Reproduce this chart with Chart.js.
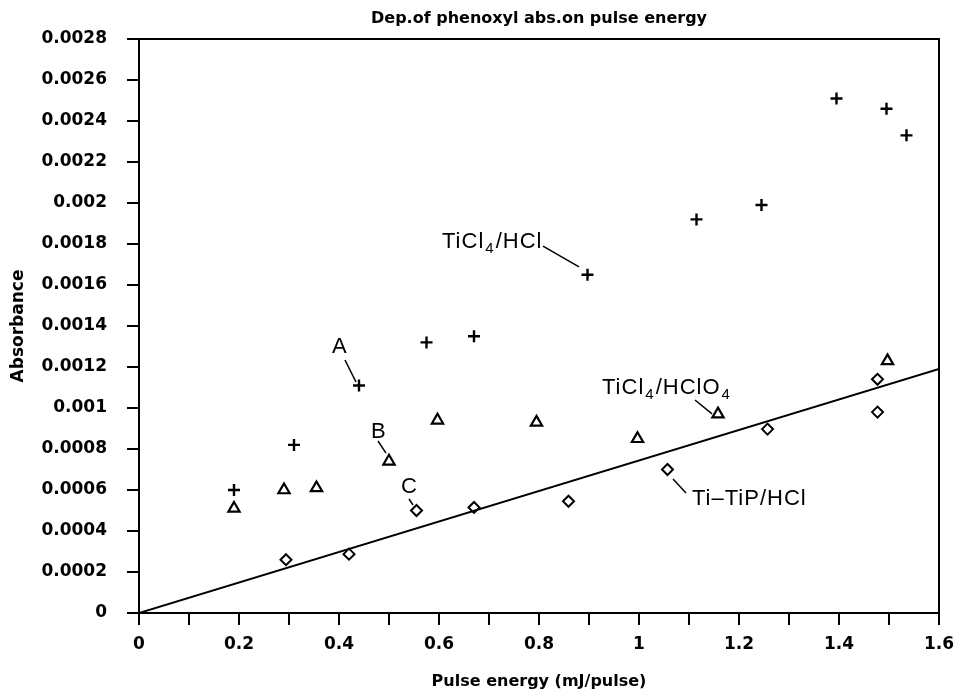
<!DOCTYPE html>
<html>
<head>
<meta charset="utf-8">
<script src="https://cdn.jsdelivr.net/npm/chart.js@4.4.1/dist/chart.umd.min.js"></script>
<style>
  body { margin: 0; background: #fff; }
  #chart { display: block; }
</style>
</head>
<body>
<canvas id="chart" width="956" height="692"></canvas>
<script>
//Data
const hclX = [0.19, 0.31, 0.44, 0.575, 0.67, 0.897, 1.115, 1.245, 1.395, 1.495, 1.535];
const hclY = [0.0006, 0.00082, 0.00111, 0.00132, 0.00135, 0.00165, 0.00192, 0.00199, 0.00251, 0.00246, 0.00233];

const hclo4X = [0.19, 0.29, 0.355, 0.5, 0.597, 0.795, 0.997, 1.158, 1.497];
const hclo4Y = [0.00051, 0.0006, 0.00061, 0.00074, 0.00094, 0.00093, 0.00085, 0.00097, 0.00123];

const tipX = [0.294, 0.42, 0.555, 0.67, 0.859, 1.057, 1.257, 1.477, 1.477];
const tipY = [0.00026, 0.000287, 0.0005, 0.000515, 0.000545, 0.0007, 0.000897, 0.00114, 0.00098];

//Fitted line through Ti-TiP/HCl
const fitX = [0, 1.6];
const fitY = [0, 0.00119];

//Axis ranges
const xMin = 0, xMax = 1.6, xStep = 0.1;
const yMin = 0, yMax = 0.0028, yStep = 0.0002;

const chartTitle = 'Dep.of phenoxyl abs.on pulse energy';

const toPoints = (xs, ys) => xs.map((x, i) => ({ x: x, y: ys[i] }));

//Labels with leader lines, placed in data units
//parts: [text, isSubscript]
const notes = [
  { parts: [['TiCl', false], ['4', true], ['/HCl', false]], x: 0.606, y: 0.00178, line: [0.808, 0.00179, 0.88, 0.001688] },
  { parts: [['A', false]], x: 0.386, y: 0.001268, line: [0.412, 0.001234, 0.434, 0.001127] },
  { parts: [['B', false]], x: 0.464, y: 0.000854, line: [0.478, 0.000839, 0.494, 0.00078] },
  { parts: [['C', false]], x: 0.524, y: 0.000585, line: [0.54, 0.000556, 0.548, 0.000527] },
  { parts: [['TiCl', false], ['4', true], ['/HClO', false], ['4', true]], x: 0.926, y: 0.001068, line: [1.112, 0.001039, 1.146, 0.000971] },
  { parts: [['Ti\u2013TiP/HCl', false]], x: 1.106, y: 0.000527, line: [1.068, 0.000654, 1.094, 0.000585] }
];

const noteFont = '22px "Liberation Sans", Arial, sans-serif';
const subFont = '15px "Liberation Sans", Arial, sans-serif';

//draws the title, labels, leader lines and the top/right frame
const notesPlugin = {
  id: 'notes',
  afterDatasetsDraw(chart) {
    const ctx = chart.ctx;
    const xs = chart.scales.x;
    const ys = chart.scales.y;
    const area = chart.chartArea;
    ctx.save();

    // frame on top and right
    ctx.strokeStyle = '#000';
    ctx.lineWidth = 2;
    ctx.beginPath();
    ctx.moveTo(area.left, area.top);
    ctx.lineTo(area.right, area.top);
    ctx.lineTo(area.right, area.bottom);
    ctx.stroke();

    // title centred over the plot area
    ctx.fillStyle = '#000';
    ctx.font = 'bold 16px "DejaVu Sans", sans-serif';
    ctx.textAlign = 'center';
    ctx.textBaseline = 'middle';
    ctx.fillText(chartTitle, (area.left + area.right) / 2, 19);

    ctx.textBaseline = 'alphabetic';
    ctx.textAlign = 'left';
    ctx.letterSpacing = '1px';
    notes.forEach(n => {
      let px = xs.getPixelForValue(n.x);
      const py = ys.getPixelForValue(n.y);
      n.parts.forEach(p => {
        ctx.font = p[1] ? subFont : noteFont;
        ctx.fillText(p[0], px + (p[1] ? 1 : 0), py + (p[1] ? 5 : 0));
        px += ctx.measureText(p[0]).width + (p[1] ? 2 : 0);
      });
      ctx.lineWidth = 1.5;
      ctx.beginPath();
      ctx.moveTo(xs.getPixelForValue(n.line[0]), ys.getPixelForValue(n.line[1]));
      ctx.lineTo(xs.getPixelForValue(n.line[2]), ys.getPixelForValue(n.line[3]));
      ctx.stroke();
    });
    ctx.restore();
  }
};

const tickFont = { family: '"DejaVu Sans", sans-serif', size: 17, weight: 'bold' };
const axisFont = { family: '"DejaVu Sans", sans-serif', size: 16, weight: 'bold' };

new Chart(document.getElementById('chart'), {
  type: 'scatter',
  data: {
    datasets: [
      {
        label: 'TiCl4/HCl',
        data: toPoints(hclX, hclY),
        pointStyle: 'cross',
        pointRadius: 6,
        borderWidth: 2.4,
        borderColor: '#000',
        backgroundColor: '#000'
      },
      {
        label: 'TiCl4/HClO4',
        data: toPoints(hclo4X, hclo4Y),
        pointStyle: 'triangle',
        pointRadius: 6.5,
        borderWidth: 2.2,
        borderColor: '#000',
        backgroundColor: 'rgba(0,0,0,0)'
      },
      {
        label: 'Ti-TiP/HCl',
        data: toPoints(tipX, tipY),
        pointStyle: 'rectRot',
        pointRadius: 5.5,
        borderWidth: 2,
        borderColor: '#000',
        backgroundColor: 'rgba(0,0,0,0)'
      },
      {
        label: 'fit',
        type: 'line',
        data: toPoints(fitX, fitY),
        borderColor: '#000',
        borderWidth: 2,
        pointRadius: 0,
        fill: false
      }
    ]
  },
  options: {
    responsive: false,
    animation: false,
    devicePixelRatio: 1,
    layout: {
      padding: { top: 39, right: 17, bottom: 0, left: 0 }
    },
    plugins: {
      legend: { display: false },
      tooltip: { enabled: false },
      title: { display: false }
    },
    scales: {
      x: {
        type: 'linear',
        min: xMin,
        max: xMax,
        afterFit(scale) {
          scale.height = 79;
          scale.paddingLeft = 0;
          scale.paddingRight = 0;
        },
        border: { color: '#000', width: 2 },
        grid: { drawOnChartArea: false, drawTicks: true, tickLength: 12, color: '#000', lineWidth: 2 },
        ticks: {
          stepSize: xStep,
          color: '#000',
          font: tickFont,
          padding: 9,
          maxRotation: 0,
          autoSkip: false,
          callback: v => (Math.round(v * 10) % 2 === 0) ? String(Number(v.toFixed(1))) : ''
        },
        title: {
          display: true,
          text: 'Pulse energy (mJ/pulse)',
          color: '#000',
          font: axisFont,
          padding: { top: 0, bottom: 1 }
        }
      },
      y: {
        type: 'linear',
        min: yMin,
        max: yMax,
        afterFit(scale) { scale.width = 139; },
        border: { color: '#000', width: 2 },
        grid: { drawOnChartArea: false, drawTicks: true, tickLength: 12, color: '#000', lineWidth: 2 },
        ticks: {
          stepSize: yStep,
          color: '#000',
          font: tickFont,
          padding: 20,
          autoSkip: false,
          callback: v => String(Number(v.toFixed(4)))
        },
        title: {
          display: true,
          text: 'Absorbance',
          color: '#000',
          font: { family: '"DejaVu Sans", sans-serif', size: 17, weight: 'bold' },
          padding: { top: 8, bottom: 0 }
        }
      }
    }
  },
  plugins: [notesPlugin]
});
</script>
</body>
</html>
